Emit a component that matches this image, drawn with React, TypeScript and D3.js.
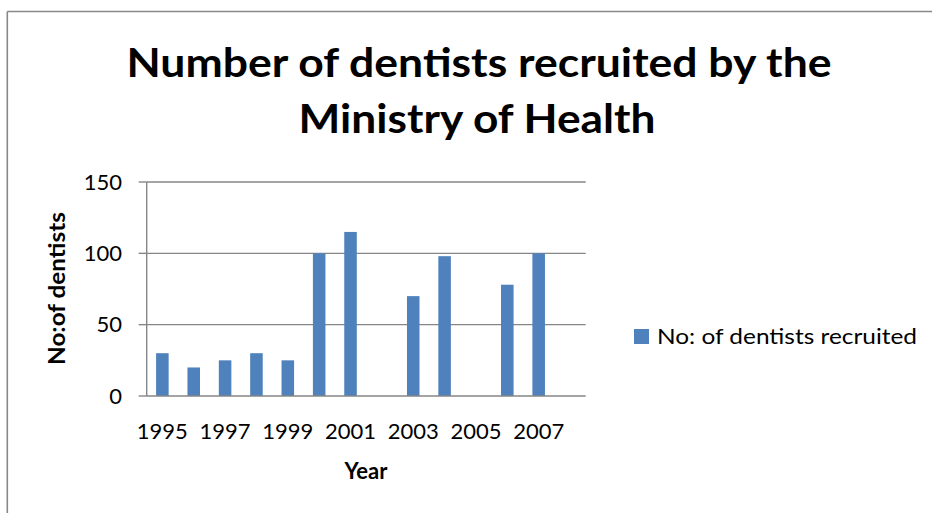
import React from "react";
import * as d3 from "d3";

const years = ["1995","1996","1997","1998","1999","2000","2001","2002","2003","2004","2005","2006","2007","2008"];
const dentists: (number | null)[] = [30, 20, 25, 30, 25, 100, 115, null, 70, 98, null, 78, 100, null];
const yTicks = [0, 50, 100, 150];
const xTickLabels = ["1995","1997","1999","2001","2003","2005","2007"];
const titleLines = ["Number of dentists recruited by the", "Ministry of Health"];
const seriesName = "No: of dentists recruited";
const xTitle = "Year";
const yTitle = "No:of dentists";

const W = 932, H = 513;
const plot = { left: 146.7, right: 585.7, top: 182, bottom: 396 };
const FONT = "Lato, 'Open Sans', 'Liberation Sans', sans-serif";
const GRID = "#868686";
const BAR = "#4F81BD";

export default function App() {
  const x = d3.scaleBand<string>().domain(years).range([plot.left, plot.right]).paddingInner(0.6).paddingOuter(0.3);
  const y = d3.scaleLinear().domain([0, 150]).range([plot.bottom, plot.top]);
  const bars = years.map((yr, i) => ({ yr, v: dentists[i] })).filter(d => d.v !== null) as { yr: string; v: number }[];

  return (
    <svg width={W} height={H} style={{ position: "absolute", left: 0, top: 0, background: "#fff" }} fontFamily={FONT}>
      {/* frame */}
      <line x1={7.3} y1={11.5} x2={W} y2={11.5} stroke="#888" strokeWidth={1.6} />
      <line x1={7.3} y1={11.5} x2={7.3} y2={H} stroke="#888" strokeWidth={1.6} />

      {/* title */}
      <text x={479} y={77} textAnchor="middle" fontSize={41} fontWeight="bold" fill="#000" textLength={705} lengthAdjust="spacingAndGlyphs">{titleLines[0]}</text>
      <text x={477} y={133} textAnchor="middle" fontSize={41} fontWeight="bold" fill="#000" textLength={357} lengthAdjust="spacingAndGlyphs">{titleLines[1]}</text>

      {/* gridlines */}
      {yTicks.filter(t => t > 0).map(t => (
        <line key={"g" + t} x1={plot.left} x2={plot.right} y1={y(t)} y2={y(t)} stroke={GRID} strokeWidth={1.4} />
      ))}

      {/* bars */}
      {bars.map(d => (
        <rect key={d.yr} x={x(d.yr)!} width={x.bandwidth()} y={y(d.v)} height={plot.bottom - y(d.v)} fill={BAR} />
      ))}

      {/* axes */}
      <line x1={plot.left} x2={plot.left} y1={plot.top} y2={plot.bottom} stroke={GRID} strokeWidth={1.4} />
      <line x1={plot.left} x2={plot.right} y1={plot.bottom} y2={plot.bottom} stroke={GRID} strokeWidth={1.4} />
      {yTicks.map(t => (
        <g key={"t" + t}>
          <line x1={plot.left - 8} x2={plot.left} y1={y(t)} y2={y(t)} stroke={GRID} strokeWidth={1.4} />
          <text x={122} y={y(t) + 7.8} textAnchor="end" fontSize={22} fill="#000">{t}</text>
        </g>
      ))}
      {xTickLabels.map(l => (
        <text key={l} x={x(l)! + x.bandwidth() / 2} y={439} textAnchor="middle" fontSize={22} fill="#000">{l}</text>
      ))}

      {/* axis titles */}
      <text x={366} y={479} textAnchor="middle" fontSize={22} fontWeight="bold" fill="#000">{xTitle}</text>
      <text transform="translate(65,288.5) rotate(-90)" textAnchor="middle" fontSize={22} fontWeight="bold" fill="#000" textLength={153} lengthAdjust="spacingAndGlyphs">{yTitle}</text>

      {/* legend */}
      <rect x={634} y={329} width={15} height={15} fill={BAR} />
      <text x={657} y={344} fontSize={22} fill="#000" textLength={260} lengthAdjust="spacingAndGlyphs">{seriesName}</text>
    </svg>
  );
}
